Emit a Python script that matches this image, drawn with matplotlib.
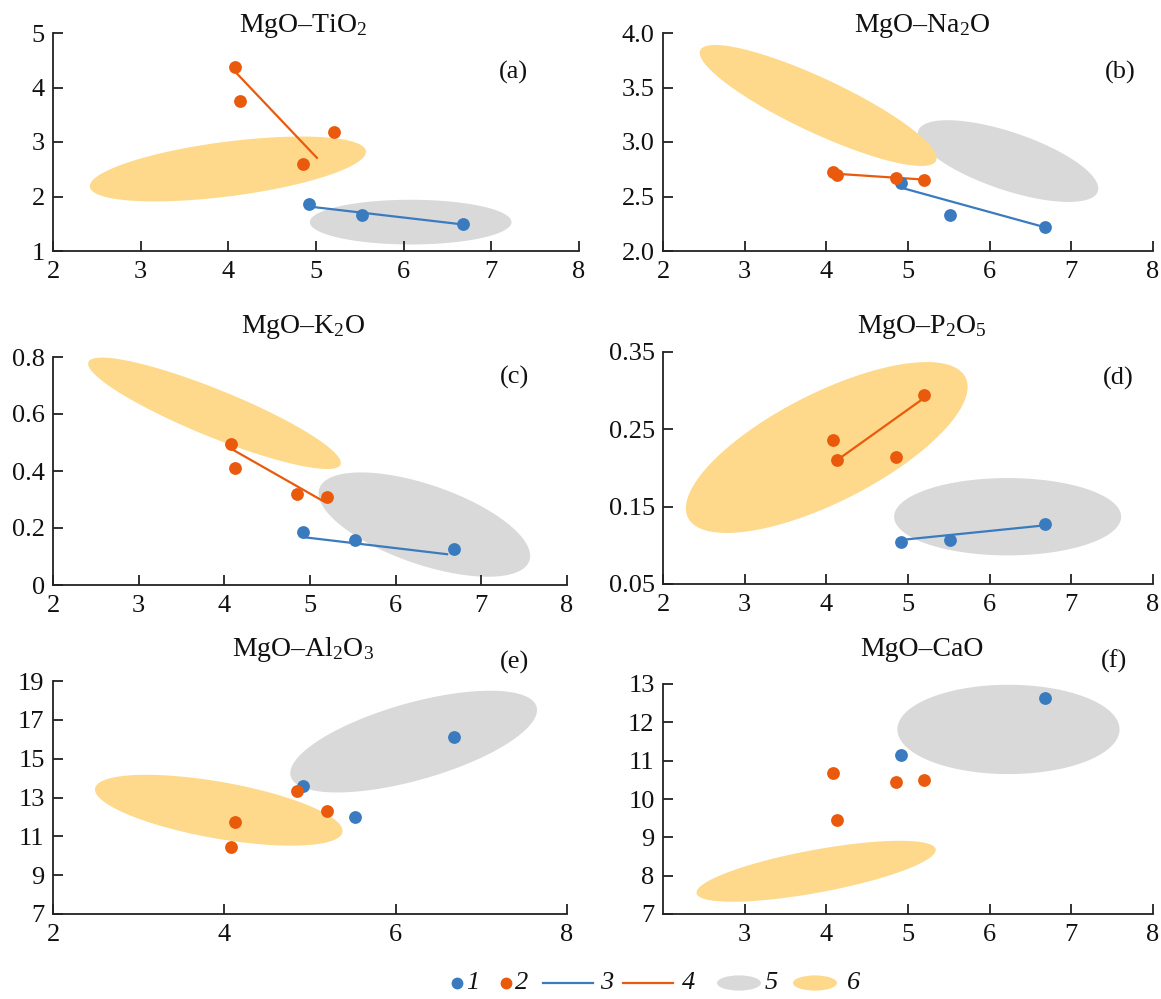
import numpy as np
import matplotlib
matplotlib.use('Agg')
import matplotlib.pyplot as plt
from matplotlib.patches import Ellipse

plt.rcParams['font.family'] = ['Liberation Serif', 'DejaVu Serif']
plt.rcParams['mathtext.fontset'] = 'custom'
plt.rcParams['mathtext.rm'] = 'Liberation Serif'
plt.rcParams['mathtext.it'] = 'Liberation Serif:italic'

BLUE = '#3a7bc0'
ORANGE = '#ea5a0c'
GRAY = '#d9d9d9'
YELLOW = '#fed98b'

# ---------------- data ----------------
titles = ['MgO–TiO$_2$', 'MgO–Na$_2$O', 'MgO–K$_2$O',
          'MgO–P$_2$O$_5$', 'MgO–Al$_2$O$_3$', 'MgO–CaO']
panel_labels = ['(a)', '(b)', '(c)', '(d)', '(e)', '(f)']

mgo_blue = [4.92, 5.52, 6.68]          # series 1, MgO
mgo_orange = [4.08, 4.13, 4.85, 5.20]  # series 2, MgO

tio2_blue = [1.87, 1.66, 1.49]
tio2_orange = [4.38, 3.75, 2.60, 3.18]
na2o_blue = [2.62, 2.33, 2.22]
na2o_orange = [2.724, 2.693, 2.668, 2.647]
k2o_blue = [0.185, 0.157, 0.127]
k2o_orange = [0.493, 0.411, 0.320, 0.308]
p2o5_blue = [0.104, 0.107, 0.128]
p2o5_orange = [0.236, 0.210, 0.214, 0.294]
al2o3_blue = [13.6, 11.98, 16.1]
al2o3_orange = [10.43, 11.74, 13.33, 12.29]
cao_blue = [11.16, np.nan, 12.63]
cao_orange = [10.68, 9.45, 10.44, 10.49]

# trend lines (3: blue, 4: orange): [x0, x1], [y0, y1]
trend3_x = [[4.90, 6.66], [4.92, 6.69], [4.92, 6.60], [4.92, 6.69], None, None]
trend3_y = [[1.82, 1.49], [2.58, 2.215], [0.168, 0.108], [0.107, 0.126], None, None]
trend4_x = [[4.06, 5.01], [4.09, 5.20], [4.08, 5.15], [4.13, 5.19], None, None]
trend4_y = [[4.32, 2.71], [2.71, 2.655], [0.478, 0.295], [0.21, 0.29], None, None]

# fields (5: gray, 6: yellow): centre x, centre y, half-extent x, half-extent y, correlation
field5 = [(6.08, 1.53, 1.15, 0.41, 0.0),
          (6.225, 2.825, 1.105, 0.375, -0.67),
          (6.335, 0.212, 1.235, 0.183, -0.60),
          (6.22, 0.137, 1.39, 0.050, 0.0),
          (6.21, 15.88, 1.44, 2.62, 0.62),
          (6.23, 11.815, 1.36, 1.165, 0.0)]
field6 = [(3.995, 2.505, 1.575, 0.595, 0.53),
          (3.90, 3.335, 1.45, 0.555, -0.87),
          (3.885, 0.6025, 1.475, 0.1955, -0.89),
          (4.005, 0.2265, 1.725, 0.1105, 0.71),
          (3.935, 12.345, 1.445, 1.825, -0.585),
          (3.875, 8.115, 1.465, 0.795, 0.70)]

blue_y = [tio2_blue, na2o_blue, k2o_blue, p2o5_blue, al2o3_blue, cao_blue]
orange_y = [tio2_orange, na2o_orange, k2o_orange, p2o5_orange, al2o3_orange, cao_orange]

ylims = [(1, 5), (2.0, 4.0), (0, 0.8), (0.05, 0.35), (7, 19), (7, 13)]
yticks = [[1, 2, 3, 4, 5], [2.0, 2.5, 3.0, 3.5, 4.0], [0, 0.2, 0.4, 0.6, 0.8],
          [0.05, 0.15, 0.25, 0.35], [7, 9, 11, 13, 15, 17, 19], [7, 8, 9, 10, 11, 12, 13]]
yticklabels = [['1', '2', '3', '4', '5'], ['2.0', '2.5', '3.0', '3.5', '4.0'],
               ['0', '0.2', '0.4', '0.6', '0.8'], ['0.05', '0.15', '0.25', '0.35'],
               ['7', '9', '11', '13', '15', '17', '19'], ['7', '8', '9', '10', '11', '12', '13']]
xticks = [[2, 3, 4, 5, 6, 7, 8]] * 4 + [[2, 4, 6, 8], [3, 4, 5, 6, 7, 8]]
legend_labels = ['1', '2', '3', '4', '5', '6']

# ---------------- layout ----------------
W_PX, H_PX = 1161, 999
fig = plt.figure(figsize=(W_PX / 100, H_PX / 100), dpi=100)

# left, right, top, bottom in pixels
boxes = [(53, 579, 33, 251), (663, 1153, 33, 251),
         (53, 567, 357, 585), (663, 1153, 352, 584),
         (53, 567, 681, 914), (663, 1153, 684, 914)]
title_xy = [(303, 32), (922, 32), (303, 333), (922, 333), (303, 656), (922, 656)]
plabel_pos = [(0.876, 0.82), (0.933, 0.82), (0.898, 0.91), (0.93, 0.886),
              (0.898, 1.08), (0.92, 1.10)]

FS = 19


def field_outline(cx, cy, wx, hy, rho, n=300):
    t = np.linspace(0, 2 * np.pi, n)
    d = np.arccos(rho)
    return cx + wx * np.cos(t), cy + hy * np.cos(t - d)


for i in range(6):
    l, r, t, b = boxes[i]
    ax = fig.add_axes([l / W_PX, 1 - b / H_PX, (r - l) / W_PX, (b - t) / H_PX])
    ax.set_xlim(2, 8)
    ax.set_ylim(*ylims[i])
    for side in ('top', 'right'):
        ax.spines[side].set_visible(False)
    for side in ('left', 'bottom'):
        ax.spines[side].set_linewidth(1.3)
        ax.spines[side].set_color('#222222')
    ax.set_xticks(xticks[i])
    ax.set_yticks(yticks[i])
    ax.set_yticklabels(yticklabels[i])
    ax.tick_params(direction='in', length=7, width=1.3, color='#222222',
                   labelsize=FS, labelcolor='#111111')
    ax.tick_params(axis='x', pad=7)
    ax.tick_params(axis='y', pad=6)

    gx, gy = field_outline(*field5[i])
    ax.fill(gx, gy, color=GRAY, lw=0, zorder=1)
    yx, yy = field_outline(*field6[i])
    ax.fill(yx, yy, color=YELLOW, lw=0, zorder=1.1)

    if trend3_x[i] is not None:
        ax.plot(trend3_x[i], trend3_y[i], color=BLUE, lw=1.6, zorder=2)
    if trend4_x[i] is not None:
        ax.plot(trend4_x[i], trend4_y[i], color=ORANGE, lw=1.6, zorder=2)

    ax.scatter(mgo_blue, blue_y[i], s=85, color=BLUE, lw=0, zorder=3, clip_on=False)
    ax.scatter(mgo_orange, orange_y[i], s=85, color=ORANGE, lw=0, zorder=4, clip_on=False)

    ax.text(*plabel_pos[i], panel_labels[i], transform=ax.transAxes,
            fontsize=FS, ha='center', va='center', color='#111111')
    tx, ty = title_xy[i]
    fig.text(tx / W_PX, 1 - ty / H_PX, titles[i], fontsize=20, ha='center',
             va='baseline', color='#111111')

# ---------------- legend ----------------
lax = fig.add_axes([0, 0, 1, 32 / H_PX])
lax.set_xlim(0, W_PX)
lax.set_ylim(-1, 1)
lax.axis('off')
lax.plot([457], [0], 'o', color=BLUE, ms=8.5, mew=0)
lax.plot([506], [0], 'o', color=ORANGE, ms=8.5, mew=0)
lax.plot([543, 593], [0, 0], color=BLUE, lw=1.6)
lax.plot([623, 673], [0, 0], color=ORANGE, lw=1.6)
lax.add_patch(Ellipse((739, 0), 44, 0.95, color=GRAY, lw=0))
lax.add_patch(Ellipse((815, 0), 44, 0.95, color=YELLOW, lw=0))
for xpos, lab in zip([466, 515, 600, 682, 765, 847], legend_labels):
    lax.text(xpos, 0, lab, fontsize=FS, style='italic', ha='left', va='center',
             color='#111111')

fig.savefig('out.png', dpi=100)
